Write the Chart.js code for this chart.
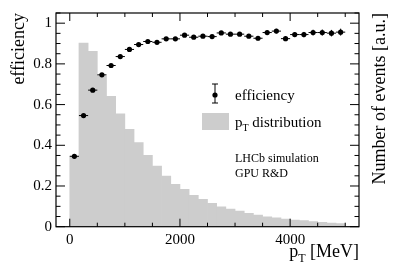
<!DOCTYPE html>
<html>
<head>
<meta charset="utf-8">
<script src="https://cdn.jsdelivr.net/npm/chart.js@4"></script>
<style>
    html, body { margin: 0; padding: 0; background: #fff; }
    canvas { display: block; }
</style>
</head>
<body>
<canvas id="chartEficiencia" width="399" height="270"></canvas>
<script>
// centros dos bins em MeV (30 bins de ~167 MeV entre 0 e 5000)
const binCenters = [83.3, 250, 416.7, 583.3, 750, 916.7, 1083.3, 1250, 1416.7, 1583.3,
    1750, 1916.7, 2083.3, 2250, 2416.7, 2583.3, 2750, 2916.7, 3083.3, 3250,
    3416.7, 3583.3, 3750, 3916.7, 4083.3, 4250, 4416.7, 4583.3, 4750, 4916.7];
const binHalfWidth = 83.3;

const efficiency = [0.346, 0.546, 0.671, 0.746, 0.792, 0.836, 0.871, 0.895, 0.910, 0.906,
    0.923, 0.923, 0.941, 0.931, 0.936, 0.934, 0.952, 0.946, 0.946, 0.936,
    0.926, 0.954, 0.961, 0.924, 0.944, 0.944, 0.954, 0.954, 0.951, 0.956];
const efficiencyErr = [0.004, 0.004, 0.004, 0.004, 0.005, 0.005, 0.005, 0.005, 0.006, 0.006,
    0.006, 0.006, 0.007, 0.007, 0.007, 0.008, 0.008, 0.008, 0.009, 0.009,
    0.010, 0.010, 0.011, 0.012, 0.012, 0.013, 0.014, 0.015, 0.016, 0.017];

// distribuição de pT (unidades arbitrárias)
const ptDistribution = [0.346, 0.902, 0.862, 0.740, 0.641, 0.554, 0.479, 0.413, 0.351, 0.298,
    0.249, 0.208, 0.184, 0.154, 0.135, 0.115, 0.098, 0.087, 0.077, 0.066,
    0.057, 0.049, 0.044, 0.038, 0.033, 0.030, 0.025, 0.021, 0.018, 0.015];

const xTickValues = [0, 2000, 4000];
const yTickValues = [0, 0.2, 0.4, 0.6, 0.8, 1];

const serif = "'Liberation Serif', 'DejaVu Serif', serif";
const cinza = 'rgb(205, 205, 205)';

const errorBars = {
    id: 'errorBars',
    afterDatasetsDraw(chart) {
        const { ctx, scales: { x, y } } = chart;
        ctx.save();
        ctx.strokeStyle = '#000';
        ctx.lineWidth = 1;
        binCenters.forEach((c, i) => {
            const px = x.getPixelForValue(c);
            const py = y.getPixelForValue(efficiency[i]);
            ctx.beginPath();
            ctx.moveTo(x.getPixelForValue(c - binHalfWidth), py);
            ctx.lineTo(x.getPixelForValue(c + binHalfWidth), py);
            ctx.moveTo(px, y.getPixelForValue(efficiency[i] - efficiencyErr[i]));
            ctx.lineTo(px, y.getPixelForValue(efficiency[i] + efficiencyErr[i]));
            ctx.stroke();
        });
        ctx.restore();
    }
};

function desenharSub(ctx, x, y, base, sub, resto, size) {
    ctx.font = size + 'px ' + serif;
    ctx.fillText(base, x, y);
    let w = ctx.measureText(base).width;
    ctx.font = Math.round(size * 0.65) + 'px ' + serif;
    ctx.fillText(sub, x + w, y + size * 0.28);
    w += ctx.measureText(sub).width;
    ctx.font = size + 'px ' + serif;
    ctx.fillText(resto, x + w, y);
    return w + ctx.measureText(resto).width;
}

const moldura = {
    id: 'moldura',
    afterDraw(chart) {
        const { ctx, chartArea: a, scales: { x, y, y2 } } = chart;
        ctx.save();
        ctx.strokeStyle = '#000';
        ctx.fillStyle = '#000';
        ctx.lineWidth = 1.2;
        ctx.strokeRect(a.left, a.top, a.right - a.left, a.bottom - a.top);

        // ticks para dentro (estilo ROOT)
        ctx.lineWidth = 1;
        ctx.beginPath();
        for (let v = 0; v <= 5000; v += 500) {
            const px = x.getPixelForValue(v);
            const len = xTickValues.includes(v) ? 8 : 4;
            ctx.moveTo(px, a.bottom);
            ctx.lineTo(px, a.bottom - len);
            ctx.moveTo(px, a.top);
            ctx.lineTo(px, a.top + len);
        }
        for (let k = 0; k <= 21; k++) {
            const v = k * 0.05;
            const major = k % 4 === 0;
            const len = major ? 9 : 4.5;
            const py = y.getPixelForValue(v);
            ctx.moveTo(a.left, py);
            ctx.lineTo(a.left + len, py);
            const py2 = y2.getPixelForValue(v);
            ctx.moveTo(a.right, py2);
            ctx.lineTo(a.right - len, py2);
        }
        ctx.stroke();

        // títulos dos eixos
        ctx.textBaseline = 'alphabetic';
        ctx.font = '18px ' + serif;
        ctx.save();
        ctx.translate(24, a.top);
        ctx.rotate(-Math.PI / 2);
        ctx.textAlign = 'right';
        ctx.fillText('efficiency', 0, 0);
        ctx.restore();

        ctx.save();
        ctx.translate(385, a.top);
        ctx.rotate(-Math.PI / 2);
        ctx.textAlign = 'right';
        ctx.fillText('Number of events [a.u.]', 0, 0);
        ctx.restore();

        ctx.textAlign = 'left';
        const wTot = (() => {
            ctx.font = '18px ' + serif;
            let w = ctx.measureText('p').width + ctx.measureText(' [MeV]').width;
            ctx.font = '12px ' + serif;
            return w + ctx.measureText('T').width;
        })();
        desenharSub(ctx, a.right - wTot, 257, 'p', 'T', ' [MeV]', 18);

        // legenda
        ctx.lineWidth = 1;
        ctx.beginPath();
        ctx.moveTo(215, 84); ctx.lineTo(215, 103);
        ctx.moveTo(212, 84); ctx.lineTo(218, 84);
        ctx.moveTo(212, 103); ctx.lineTo(218, 103);
        ctx.stroke();
        ctx.beginPath();
        ctx.arc(215, 95, 2.6, 0, Math.PI * 2);
        ctx.fill();
        ctx.font = '15px ' + serif;
        ctx.fillText('efficiency', 235, 100);

        ctx.fillStyle = cinza;
        ctx.fillRect(202, 113, 27, 17);
        ctx.fillStyle = '#000';
        desenharSub(ctx, 235, 127, 'p', 'T', ' distribution', 15);

        ctx.font = '12px ' + serif;
        ctx.fillText('LHCb simulation', 235, 162);
        ctx.fillText('GPU R&D', 235, 177);
        ctx.restore();
    }
};

const ctx = document.getElementById('chartEficiencia').getContext('2d');

new Chart(ctx, {
    type: 'bar',
    data: {
        datasets: [{
            type: 'scatter',
            label: 'efficiency',
            data: binCenters.map((c, i) => ({ x: c, y: efficiency[i] })),
            yAxisID: 'y',
            backgroundColor: '#000',
            borderColor: '#000',
            pointRadius: 2.6,
            pointBorderWidth: 0,
            showLine: false,
            order: 0
        }, {
            type: 'bar',
            label: 'pT distribution',
            data: binCenters.map((c, i) => ({ x: c, y: ptDistribution[i] })),
            yAxisID: 'y2',
            backgroundColor: cinza,
            borderWidth: 0,
            barPercentage: 1,
            categoryPercentage: 1,
            order: 1
        }]
    },
    options: {
        responsive: false,
        animation: false,
        devicePixelRatio: 1,
        layout: { padding: { top: 13, right: 40, left: 0, bottom: 0 } },
        plugins: {
            legend: { display: false },
            tooltip: { enabled: false }
        },
        scales: {
            x: {
                type: 'linear',
                min: -250,
                max: 5250,
                offset: false,
                grid: { display: false, drawTicks: false },
                border: { display: false },
                afterBuildTicks: scale => { scale.ticks = xTickValues.map(v => ({ value: v })); },
                afterFit: scale => { scale.height = 43.3; },
                ticks: {
                    color: '#000',
                    padding: 4,
                    maxRotation: 0,
                    autoSkip: false,
                    font: { family: serif, size: 15 },
                    callback: v => String(v)
                }
            },
            y: {
                position: 'left',
                min: 0,
                max: 1.05,
                grid: { display: false, drawTicks: false },
                border: { display: false },
                afterBuildTicks: scale => { scale.ticks = yTickValues.map(v => ({ value: v })); },
                afterFit: scale => { scale.width = 56; },
                ticks: {
                    color: '#000',
                    padding: 4,
                    font: { family: serif, size: 15 },
                    callback: v => String(v)
                }
            },
            y2: {
                position: 'right',
                display: false,
                min: 0,
                max: 1.05
            }
        }
    },
    plugins: [errorBars, moldura]
});
</script>
</body>
</html>
